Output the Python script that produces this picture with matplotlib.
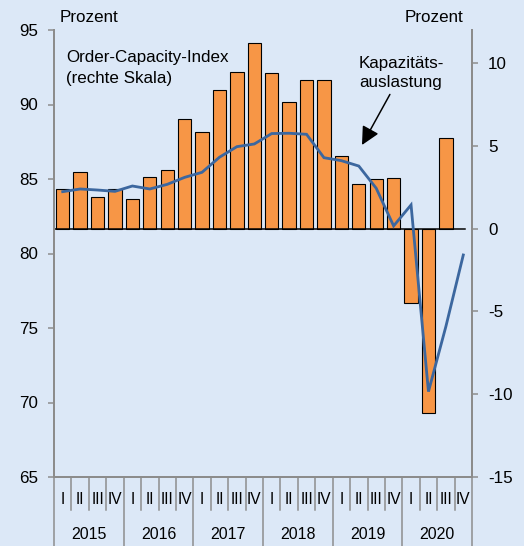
import numpy as np
import matplotlib
matplotlib.use('Agg')
import matplotlib.pyplot as plt

plt.rcParams['font.family'] = ['Liberation Sans', 'DejaVu Sans']
plt.rcParams['axes.unicode_minus'] = False

# data
years = ['2015', '2016', '2017', '2018', '2019', '2020']
quarters = ['I', 'II', 'III', 'IV']
# Order-Capacity-Index (right scale), 2015 Q1 .. 2020 Q4
oci = [2.4, 3.4, 1.9, 2.4, 1.8, 3.15, 3.55, 6.6, 5.85, 8.35, 9.45, 11.2,
       9.4, 7.65, 8.95, 8.95, 4.4, 2.7, 3.0, 3.05, -4.5, -11.15, 5.5, np.nan]
# Kapazitätsauslastung (left scale)
kap = [84.15, 84.33, 84.26, 84.17, 84.53, 84.33, 84.64, 85.11, 85.45, 86.46,
       87.17, 87.35, 88.05, 88.07, 88.0, 86.43, 86.23, 85.87, 84.38, 81.85,
       83.26, 70.73, 75.1, 79.9]

bg = '#dce8f7'
grey = '#8c8c8c'
W, H = 524, 546

fig = plt.figure(figsize=(W / 72, H / 72), dpi=72, facecolor=bg)
ax = fig.add_axes([54 / W, 69 / H, 418 / W, 447 / H])
ax2 = ax.twinx()

x = np.arange(len(oci)) + 0.5

# bars on right axis, line on left axis (left axis drawn on top)
ax2.bar(x, oci, width=0.77, color='#f79646', edgecolor='black', linewidth=1.1)
ax2.axhline(0, xmin=0, xmax=(465 - 54) / 418, color='black', lw=1.5)
ax.plot(x, kap, color='#3c679f', lw=2.8, solid_joinstyle='miter')

ax.set_zorder(ax2.get_zorder() + 1)
ax.patch.set_visible(False)
ax2.set_facecolor(bg)

ax.set_xlim(0, 24)
ax.set_ylim(65, 95)
ax2.set_ylim(-15, 12)
ax.set_yticks([65, 70, 75, 80, 85, 90, 95])
ax2.set_yticks([-15, -10, -5, 0, 5, 10])

for a in (ax, ax2):
    for s in a.spines.values():
        s.set_visible(False)
    a.tick_params(axis='y', direction='out', length=6, width=1.5, color=grey,
                  labelsize=17, pad=10)
ax.spines['left'].set_visible(True)
ax.spines['bottom'].set_visible(True)
ax2.spines['right'].set_visible(True)
for s in (ax.spines['left'], ax.spines['bottom'], ax2.spines['right']):
    s.set_color(grey)
    s.set_linewidth(2)

# quarter labels
ax.set_xticks(x)
ax.set_xticklabels(quarters * len(years), fontsize=15.5)
ax.tick_params(axis='x', length=0, pad=15)

# separators below the axis
tr = ax.get_xaxis_transform()
for b in range(25):
    low = -0.154 if b % 4 == 0 else -0.074
    ax.plot([b, b], [0, low], transform=tr, color=grey, lw=1.5, clip_on=False)
for k, yr in enumerate(years):
    ax.text(4 * k + 2, -0.1285, yr, transform=tr, ha='center', va='center',
            fontsize=16)

fig.text(60 / W, 1 - 17 / H, 'Prozent', fontsize=17, va='center', ha='left')
fig.text(463 / W, 1 - 17 / H, 'Prozent', fontsize=17, va='center', ha='right')

fig.text(66 / W, 1 - 50 / H, 'Order-Capacity-Index\n(rechte Skala)',
         fontsize=17, va='top', ha='left', linespacing=1.5)
ax.annotate('Kapazitäts-\nauslastung', xy=(362, H - 145), xycoords='figure pixels',
            xytext=(401, H - 73), textcoords='figure pixels',
            fontsize=17, ha='center', va='center', linespacing=1.3,
            arrowprops=dict(arrowstyle='-|>,head_length=0.9,head_width=0.45',
                            color='black', lw=1.5, shrinkA=3, shrinkB=0,
                            relpos=(0.4, 0.0)))

fig.savefig('out.png', dpi=72, facecolor=bg)
